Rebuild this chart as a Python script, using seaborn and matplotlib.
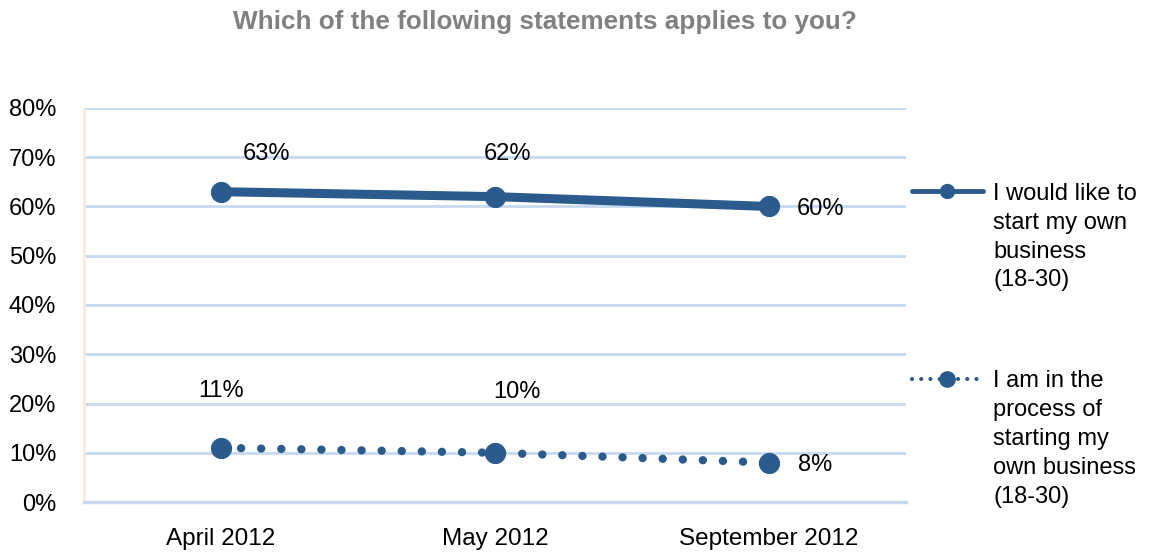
import matplotlib
matplotlib.use("Agg")
import matplotlib.pyplot as plt
import seaborn as sns
import pandas as pd
from matplotlib.lines import Line2D

categories = ["April 2012", "May 2012", "September 2012"]
series_names = [
    "I would like to\nstart my own\nbusiness\n(18-30)",
    "I am in the\nprocess of\nstarting my\nown business\n(18-30)",
]
values_start = [63, 62, 60]
values_process = [11, 10, 8]
ytick_values = [0, 10, 20, 30, 40, 50, 60, 70, 80]
title = "Which of the following statements applies to you?"

# label offsets (points) for annotations
offsets_start = [(33, 27), (9, 31), (37, -2)]
offsets_process = [(0, 41), (16, 44), (33, -2)]

sns.set_theme(style="white")
plt.rcParams["font.family"] = ["Liberation Sans", "DejaVu Sans"]
plt.rcParams["text.color"] = "black"
plt.rcParams["xtick.color"] = "black"
plt.rcParams["ytick.color"] = "black"

color = "#2a5b8c"
grid_color = "#c6d9ef"
fs = 17

fig = plt.figure(figsize=(11.49, 5.56), dpi=100)
ax = fig.add_axes([0.0731, 0.0971, 0.7154, 0.7087])

df1 = pd.DataFrame({"x": categories, "y": values_start})
df2 = pd.DataFrame({"x": categories, "y": values_process})

sns.lineplot(data=df1, x="x", y="y", ax=ax, color=color, linewidth=6.5,
             marker="o", markersize=14.5, markeredgecolor=color, sort=False,
             solid_capstyle="round", zorder=3)
sns.lineplot(data=df2, x="x", y="y", ax=ax, color=color, linewidth=6.0,
             linestyle=(0, (0.01, 2.4)), dash_capstyle="round",
             marker="o", markersize=14.5, markeredgecolor=color, sort=False, zorder=3)

for i, v in enumerate(values_start):
    ax.annotate(f"{v}%", (i, v), xytext=offsets_start[i], textcoords="offset points",
                ha="center", va="center", fontsize=fs, color="black")
for i, v in enumerate(values_process):
    ax.annotate(f"{v}%", (i, v), xytext=offsets_process[i], textcoords="offset points",
                ha="center", va="center", fontsize=fs, color="black")

ax.set_xlim(-0.5, 2.5)
ax.set_ylim(0, 80)
ax.set_yticks(ytick_values)
ax.set_yticklabels([f"{v}%" for v in ytick_values], fontsize=fs)
ax.set_xticks(range(len(categories)))
ax.set_xticklabels(categories, fontsize=17.5)
ax.set_xticks([-0.5, 0.5, 1.5, 2.5], minor=True)
ax.tick_params(axis="x", which="major", length=0, pad=19)
ax.tick_params(axis="x", which="minor", length=5, width=2, color=grid_color, direction="in")
ax.tick_params(axis="y", length=0, pad=20)
ax.set_xlabel("")
ax.set_ylabel("")

ax.yaxis.grid(True, color=grid_color, linewidth=2)
ax.xaxis.grid(False)
ax.set_axisbelow(True)

for s in ["top", "right"]:
    ax.spines[s].set_visible(False)
ax.spines["left"].set_color("#fde9d9")
ax.spines["left"].set_linewidth(2)
ax.spines["bottom"].set_color(grid_color)
ax.spines["bottom"].set_linewidth(2.5)

fig.suptitle(title, x=0.474, y=0.982, fontsize=18.8, fontweight="bold", color="#808080")

handles = [
    Line2D([], [], color=color, linewidth=3.5, marker="o", markersize=10),
    Line2D([], [], color=color, linewidth=3, linestyle=(0, (0.01, 2.2)),
           dash_capstyle="round", marker="o", markersize=11),
]
leg = fig.legend(handles, series_names, loc="upper left", bbox_to_anchor=(0.7937, 0.671),
                 frameon=False, fontsize=fs, handlelength=3.0, handletextpad=0.45,
                 labelspacing=3.35, borderpad=0, borderaxespad=0)
for t in leg.get_texts():
    t.set_linespacing(1.4)
for col in leg._legend_handle_box.get_children():
    for item in col.get_children():
        item.align = "top"

fig.savefig("out.png", dpi=100)
